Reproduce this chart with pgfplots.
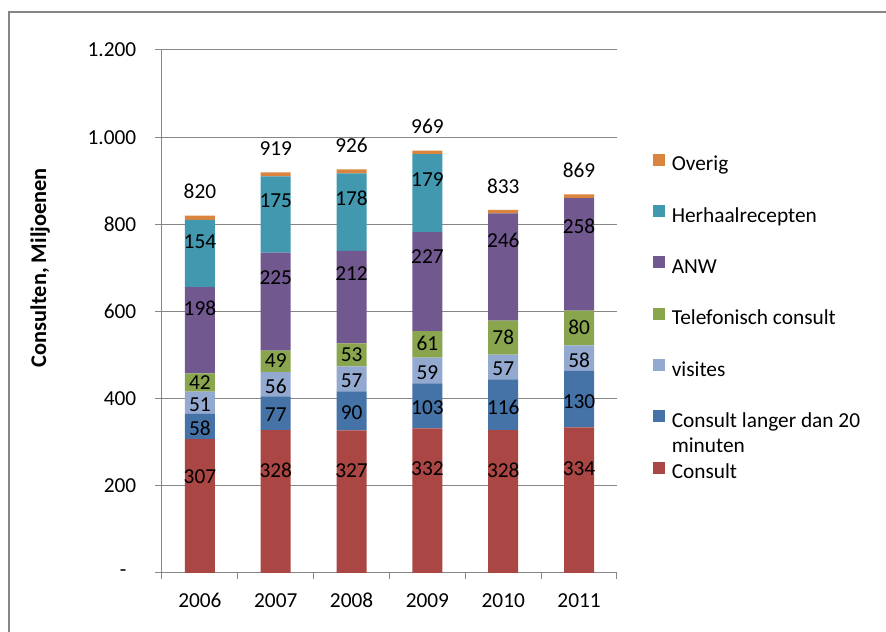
\documentclass[border=0pt]{standalone}
\usepackage{fontspec}
\setmainfont{Carlito}
\usepackage{pgfplots}
\usepackage{pgfplotstable}
\pgfplotsset{compat=1.18}

\definecolor{cConsult}{HTML}{AA4643}
\definecolor{cLanger}{HTML}{4572A7}
\definecolor{cVisites}{HTML}{93A9CF}
\definecolor{cTel}{HTML}{89A54E}
\definecolor{cAnw}{HTML}{71588F}
\definecolor{cHerh}{HTML}{4198AF}
\definecolor{cOverig}{HTML}{DB843D}
\definecolor{frame}{HTML}{868686}

\newcommand\lbl{\fontsize{16}{18.75}\selectfont}

% consulten per jaar, miljoenen
\pgfplotstableread{
x consult langer visites tel anw herh overig total
0 307 58  51 42 198 154 10 820
1 328 77  56 49 225 175 9  919
2 327 90  57 53 212 178 9  926
3 332 103 59 61 227 179 8  969
4 328 116 57 78 246 0   8  833
5 334 130 58 80 258 0   9  869
}\data

\pgfplotsset{
  geom/.style={
    at={(121.5pt,44.25pt)}, anchor=south west,
    scale only axis, width=341.25pt, height=392.25pt,
    xmin=-0.5, xmax=5.5, ymin=0, ymax=1200,
  },
  lab/.style={draw=none, mark=none, point meta=explicit symbolic,
    nodes near coords={\pgfplotspointmeta},
    every node near coord/.append style={anchor=center, font=\lbl, text=black}},
}

\begin{document}
\begin{tikzpicture}
\useasboundingbox (0,0) rectangle (664.5pt,474pt);
\draw[frame, line width=1.5pt] (6.75pt,0) -- (6.75pt,465pt) -- (664.5pt,465pt);
\begin{axis}[
  geom,
  ybar stacked, bar width=22.5pt,
  xtick={0,...,5}, xticklabels={2006,2007,2008,2009,2010,2011},
  minor xtick={-0.5,0.5,...,5.5},
  ytick={0,200,...,1200},
  yticklabels={-\hspace*{7.5pt},200,400,600,800,1.000,1.200},
  axis lines*=left,
  axis line style={draw=frame, line width=0.75pt},
  ymajorgrids, major grid style={draw=frame, line width=0.75pt},
  tick align=outside, major tick length=5.25pt, minor tick length=4.5pt,
  tick style={draw=frame, line width=0.75pt},
  major x tick style={draw=none},
  ticklabel style={font=\lbl, text=black},
  xticklabel style={anchor=base, yshift=-20.5pt},
  yticklabel style={xshift=-10.5pt},
  ylabel={\bfseries Consulten, Miljoenen},
  ylabel style={at={(rel axis cs:-0.268,0.584)}, anchor=center, font=\fontsize{16.8}{18}\selectfont},
  legend style={at={(rel axis cs:1.078,0.8025)}, anchor=north west,
    draw=none, fill=none, inner sep=0pt, row sep=22.5pt, column sep=5.25pt,
    font=\lbl, nodes={inner sep=0pt, text height=11pt, text depth=3pt}},
  legend cell align=left,
  reverse legend,
  legend image code/.code={\fill[#1] (0pt,0pt) rectangle (9pt,9pt);},
]
\addplot[fill=cConsult, draw=none] table[x=x, y=consult] {\data};
\addlegendentry{Consult}
\addplot[fill=cLanger, draw=none] table[x=x, y=langer] {\data};
\addlegendentry{\vtop{\hbox{Consult langer dan 20}\hbox{minuten}}}
\addplot[fill=cVisites, draw=none] table[x=x, y=visites] {\data};
\addlegendentry{visites}
\addplot[fill=cTel, draw=none] table[x=x, y=tel] {\data};
\addlegendentry{Telefonisch consult}
\addplot[fill=cAnw, draw=none] table[x=x, y=anw] {\data};
\addlegendentry{ANW}
\addplot[fill=cHerh, draw=none] table[x=x, y=herh] {\data};
\addlegendentry{Herhaalrecepten}
\addplot[fill=cOverig, draw=none] table[x=x, y=overig] {\data};
\addlegendentry{Overig}
\end{axis}

% value labels, placed inside the segments as in the original
\begin{axis}[geom, hide axis, clip=false]
\addplot[lab] table[x=x, y expr={\thisrow{consult}*0.72}, meta=consult] {\data};
\addplot[lab] table[x=x, y expr={\thisrow{consult}+\thisrow{langer}*0.45}, meta=langer] {\data};
\addplot[lab] table[x=x, y expr={\thisrow{consult}+\thisrow{langer}+\thisrow{visites}*0.42}, meta=visites] {\data};
\addplot[lab] table[x=x, y expr={\thisrow{consult}+\thisrow{langer}+\thisrow{visites}+\thisrow{tel}*0.52}, meta=tel] {\data};
\addplot[lab] table[x=x, y expr={\thisrow{consult}+\thisrow{langer}+\thisrow{visites}+\thisrow{tel}+\thisrow{anw}*0.75}, meta=anw] {\data};
\addplot[lab, skip coords between index={4}{6}] table[x=x, y expr={\thisrow{consult}+\thisrow{langer}+\thisrow{visites}+\thisrow{tel}+\thisrow{anw}+\thisrow{herh}*0.68}, meta=herh] {\data};
\addplot[lab, every node near coord/.append style={yshift=18pt}] table[x=x, y=total, meta=total] {\data};
\end{axis}
\end{tikzpicture}
\end{document}
